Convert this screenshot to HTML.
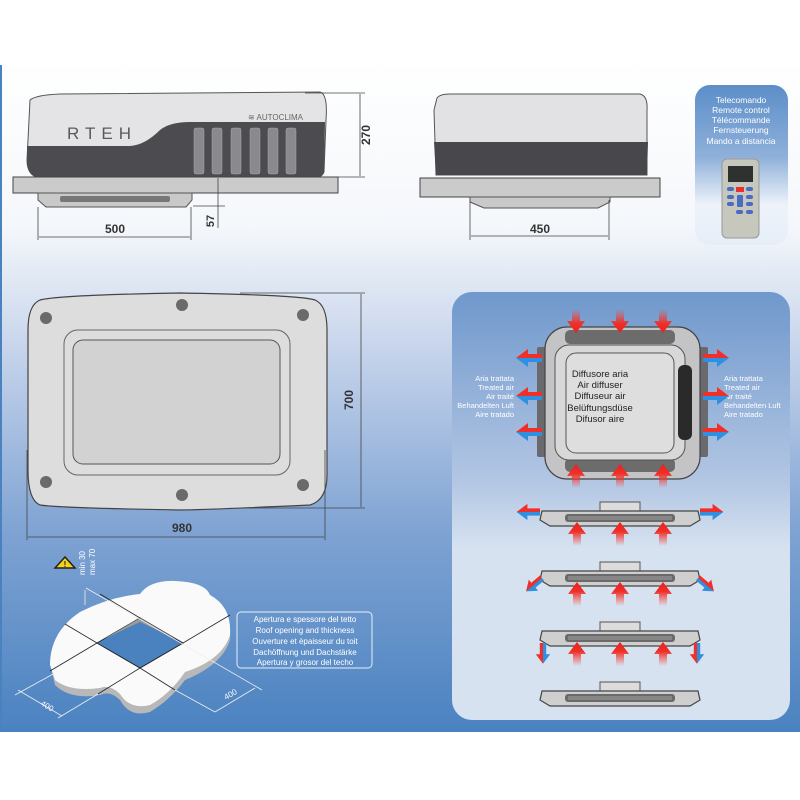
<!DOCTYPE html>
<html><head><meta charset="utf-8"><style>
html,body{margin:0;padding:0;background:#fff}
svg{display:block}
text{font-family:"Liberation Sans",sans-serif}
</style></head><body>
<svg width="800" height="800" viewBox="0 0 800 800" xmlns="http://www.w3.org/2000/svg">
<defs>
<linearGradient id="bg" x1="0" y1="0" x2="0" y2="1">
<stop offset="0" stop-color="#ffffff"/><stop offset="0.25" stop-color="#f4f7fb"/><stop offset="0.42" stop-color="#c9d6ec"/><stop offset="0.7" stop-color="#7fa3d3"/><stop offset="1" stop-color="#4a82c0"/></linearGradient>
<linearGradient id="pnl" x1="0" y1="0" x2="0" y2="1">
<stop offset="0" stop-color="#6f98cc"/><stop offset="0.45" stop-color="#b4c7e4"/><stop offset="0.6" stop-color="#d6e2f0"/><stop offset="1" stop-color="#d6e2f0"/></linearGradient>
<linearGradient id="rem" x1="0" y1="0" x2="0" y2="1">
<stop offset="0" stop-color="#5b8ec8"/><stop offset="0.45" stop-color="#8fb0da"/><stop offset="0.75" stop-color="#eef3fa"/><stop offset="1" stop-color="#e6eef8"/></linearGradient>
<linearGradient id="up" x1="0" y1="1" x2="0" y2="0"><stop offset="0" stop-color="#ff3b30" stop-opacity="0"/><stop offset="0.6" stop-color="#f03028"/><stop offset="1" stop-color="#e82020"/></linearGradient>
<linearGradient id="dn" x1="0" y1="0" x2="0" y2="1"><stop offset="0" stop-color="#ff3b30" stop-opacity="0"/><stop offset="0.6" stop-color="#f03028"/><stop offset="1" stop-color="#e82020"/></linearGradient>
<linearGradient id="rb" x1="0" y1="0" x2="0" y2="1"><stop offset="0" stop-color="#f03028"/><stop offset="0.5" stop-color="#f03028"/><stop offset="0.5" stop-color="#2f8fe0"/><stop offset="1" stop-color="#2f8fe0"/></linearGradient>
<g id="uparr"><path d="M-4,18 L-4,6 L-9,6 L0,-6 L9,6 L4,6 L4,18Z" fill="url(#up)"/></g>
<g id="dnarr"><path d="M-4,-18 L-4,-6 L-9,-6 L0,6 L9,-6 L4,-6 L4,-18Z" fill="url(#dn)"/></g>
<g id="sarr"><path d="M0,-4 L-14,-4 L-14,-9 L-26,0 L-14,9 L-14,4 L0,4Z" fill="url(#rb)"/></g>
<g id="prof">
<rect x="-20" y="-12" width="40" height="10" fill="#dcdcdc" stroke="#555" stroke-width="1"/>
<path d="M-78,-3 L78,-3 L80,6 L70,12 L-70,12 L-80,6Z" fill="#cfcfcf" stroke="#444" stroke-width="1.2"/>
<rect x="-55" y="0" width="110" height="8" rx="3" fill="#6a6a6a"/>
<rect x="-52" y="2" width="104" height="4" fill="#9a9a9a" opacity=".6"/>
</g>
</defs>
<rect x="0" y="60" width="800" height="672" fill="url(#bg)"/>
<rect x="0" y="65" width="2" height="667" fill="#4a82c0"/>

<!-- side view -->
<path d="M30,100 Q36,95 60,94 L320,92 Q328,94 326,120 L324,172 Q322,178 312,178 L40,178 Q27,176 27,160 Z" fill="#e4e4e6" stroke="#555" stroke-width="1"/>
<path d="M27,146 L130,146 Q145,145 160,130 Q170,122 190,122 L325,122 L324,172 Q322,178 312,178 L40,178 Q27,176 27,160Z" fill="#4b4b50"/>
<text x="67" y="139" font-size="17" fill="#5a5a5e" letter-spacing="6">RTEH</text>
<text x="248" y="120" font-size="8" fill="#666">≋ AUTOCLIMA</text>
<g fill="#8a8a8e" stroke="#aaa" stroke-width=".5">
<rect x="194" y="128" width="10" height="46" rx="2"/><rect x="212" y="128" width="10" height="46" rx="2"/><rect x="231" y="128" width="10" height="46" rx="2"/><rect x="250" y="128" width="10" height="46" rx="2"/><rect x="268" y="128" width="10" height="46" rx="2"/><rect x="286" y="128" width="10" height="46" rx="2"/></g>
<rect x="13" y="177" width="325" height="16" fill="#cbcbcb" stroke="#444" stroke-width="1"/>
<path d="M38,193 L192,193 L192,200 L186,207 L46,207 L38,200Z" fill="#c9c9c9" stroke="#555"/>
<rect x="60" y="196" width="110" height="6" rx="2" fill="#777"/>
<g stroke="#444" stroke-width=".8" fill="none">
<line x1="305" y1="93" x2="365" y2="93"/><line x1="325" y1="177" x2="365" y2="177"/><line x1="360" y1="94" x2="360" y2="176"/>
<line x1="38" y1="207" x2="38" y2="240"/><line x1="191" y1="207" x2="191" y2="240"/><line x1="39" y1="237" x2="190" y2="237"/>
<line x1="193" y1="206" x2="225" y2="206"/><line x1="218" y1="178" x2="218" y2="228"/></g>
<text x="370" y="135" font-size="12" font-weight="bold" fill="#333" transform="rotate(-90 370 135)" text-anchor="middle">270</text>
<text x="115" y="233" font-size="12" font-weight="bold" fill="#333" text-anchor="middle">500</text>
<text x="214" y="221" font-size="11" font-weight="bold" fill="#333" transform="rotate(-90 214 221)" text-anchor="middle">57</text>

<!-- front view -->
<path d="M437,98 Q440,94 450,94 L640,94 Q648,96 647,110 L647,175 L436,175 L434,110Z" fill="#e2e2e4" stroke="#555"/>
<path d="M434,142 L648,142 L647,175 L436,175Z" fill="#48484c"/>
<rect x="420" y="178" width="240" height="19" fill="#cbcbcb" stroke="#444"/>
<path d="M470,197 L610,197 L610,202 L598,208 L484,208 L470,202Z" fill="#c9c9c9" stroke="#555"/>
<g stroke="#444" stroke-width=".8"><line x1="470" y1="200" x2="470" y2="240"/><line x1="609" y1="200" x2="609" y2="240"/><line x1="471" y1="236" x2="608" y2="236"/></g>
<text x="540" y="233" font-size="12" font-weight="bold" fill="#333" text-anchor="middle">450</text>

<!-- remote -->
<rect x="695" y="85" width="93" height="160" rx="15" fill="url(#rem)"/>
<g font-size="8.5" fill="#fff" text-anchor="middle"><text x="741" y="103">Telecomando</text><text x="741" y="113">Remote control</text><text x="741" y="123">Télécommande</text><text x="741" y="133">Fernsteuerung</text><text x="741" y="144">Mando a distancia</text></g>
<rect x="722" y="159" width="37" height="79" rx="5" fill="#c6c7bd" stroke="#999"/>
<rect x="728" y="166" width="25" height="16" fill="#2f3130"/>
<rect x="736" y="187" width="8" height="5" fill="#e83030"/>
<g fill="#4a6bc4"><rect x="727" y="187" width="7" height="4" rx="2"/><rect x="746" y="187" width="7" height="4" rx="2"/><rect x="727" y="195" width="7" height="4" rx="2"/><rect x="746" y="195" width="7" height="4" rx="2"/><rect x="727" y="202" width="7" height="4" rx="2"/><rect x="746" y="202" width="7" height="4" rx="2"/><rect x="737" y="195" width="6" height="12" rx="1"/><rect x="736" y="210" width="7" height="4" rx="2"/><rect x="746" y="210" width="7" height="4" rx="2"/></g>

<!-- top view -->
<path d="M40,300 Q60,295 180,293 Q300,295 315,300 Q327,305 327,330 L327,475 Q327,500 310,505 Q200,510 180,510 Q60,508 40,505 Q28,500 28,470 L28,330 Q28,305 40,300Z" fill="#dddddd" stroke="#444" stroke-width="1.2"/>
<rect x="64" y="330" width="226" height="145" rx="14" fill="none" stroke="#666"/>
<rect x="73" y="340" width="207" height="124" rx="10" fill="#d2d2d2" stroke="#555"/>
<g fill="#6a6a6a"><circle cx="46" cy="318" r="6"/><circle cx="182" cy="305" r="6"/><circle cx="303" cy="315" r="6"/><circle cx="46" cy="482" r="6"/><circle cx="182" cy="495" r="6"/><circle cx="303" cy="485" r="6"/></g>
<g stroke="#444" stroke-width=".8"><line x1="240" y1="293" x2="365" y2="293"/><line x1="240" y1="508" x2="365" y2="508"/><line x1="361" y1="294" x2="361" y2="507"/>
<line x1="27" y1="450" x2="27" y2="540"/><line x1="325" y1="450" x2="325" y2="540"/><line x1="28" y1="537" x2="324" y2="537"/></g>
<text x="353" y="400" font-size="12" font-weight="bold" fill="#333" transform="rotate(-90 353 400)" text-anchor="middle">700</text>
<text x="182" y="532" font-size="12" font-weight="bold" fill="#333" text-anchor="middle">980</text>

<!-- roof -->
<path d="M55,568 L65,557 L75,568Z" fill="#f2d21a" stroke="#222" stroke-width="1.5"/>
<text x="65" y="567" font-size="8" font-weight="bold" text-anchor="middle" fill="#222">!</text>
<text x="85" y="575" font-size="8" fill="#fff" transform="rotate(-90 85 575)">min 30</text>
<text x="95" y="575" font-size="8" fill="#fff" transform="rotate(-90 95 575)">max 70</text>
<path d="M52,672 Q50,640 80,618 Q110,603 140,600 Q150,585 175,585 Q205,585 210,600 Q232,612 230,640 Q222,665 185,680 Q170,700 150,712 Q130,718 120,700 Q110,690 100,695 Q70,700 55,685 Z" fill="#b8b8b8"/>
<path d="M50,665 Q50,632 80,612 Q110,597 140,594 Q150,580 175,581 Q205,582 210,595 Q232,607 230,635 Q222,660 185,672 Q170,694 150,705 Q130,710 120,694 Q110,684 100,688 Q70,692 55,680 Z" fill="#fafafa"/>
<path d="M97,643 L140,618 L183,643 L140,668Z" fill="#4a82c0" stroke="#222"/>
<path d="M97,643 L140,618 L183,643 L178,640 L140,622 L102,640Z" fill="#9a9a9a"/>
<g stroke="#222" stroke-width=".8"><line x1="97" y1="643" x2="50" y2="671"/><line x1="183" y1="643" x2="230" y2="615"/><line x1="140" y1="668" x2="98" y2="694"/><line x1="140" y1="668" x2="175" y2="690"/><line x1="140" y1="618" x2="100" y2="594"/><line x1="97" y1="643" x2="65" y2="624"/></g>
<g stroke="#eee" stroke-width=".8"><line x1="86" y1="588" x2="262" y2="690"/><line x1="55" y1="673" x2="15" y2="695"/><line x1="98" y1="694" x2="58" y2="718"/><line x1="18" y1="690" x2="62" y2="716"/><line x1="175" y1="690" x2="215" y2="712"/><line x1="215" y1="712" x2="255" y2="688"/><line x1="85" y1="590" x2="85" y2="605"/></g>
<text x="40" y="705" font-size="8" fill="#fff" transform="rotate(30 40 705)">400</text>
<text x="226" y="700" font-size="8" fill="#fff" transform="rotate(-30 226 700)">400</text>
<rect x="237" y="612" width="135" height="56" rx="4" fill="none" stroke="#e8eef8" stroke-width="1"/>
<g font-size="8" fill="#fff" text-anchor="middle"><text x="305" y="622">Apertura e spessore del tetto</text><text x="305" y="633">Roof opening and thickness</text><text x="305" y="644">Ouverture et èpaisseur du toit</text><text x="305" y="655">Dachöffnung und Dachstärke</text><text x="305" y="665">Apertura y grosor del techo</text></g>

<!-- right panel -->
<rect x="452" y="292" width="338" height="428" rx="20" fill="url(#pnl)"/>
<rect x="537" y="347" width="12" height="110" rx="2" fill="#6a6a6e"/>
<rect x="696" y="347" width="12" height="110" rx="2" fill="#6a6a6e"/>
<rect x="545" y="327" width="155" height="152" rx="22" fill="#c4c4c6" stroke="#444" stroke-width="1.2"/>
<rect x="565" y="330" width="110" height="14" rx="5" fill="#6c6c6c"/>
<rect x="565" y="458" width="110" height="14" rx="5" fill="#6c6c6c"/>
<rect x="555" y="345" width="130" height="115" rx="14" fill="#d8d8d8" stroke="#555"/>
<rect x="566" y="353" width="108" height="100" rx="10" fill="#dedede" stroke="#555"/>
<rect x="678" y="365" width="14" height="75" rx="6" fill="#2a2a2a"/>
<g font-size="9.5" fill="#222" text-anchor="middle"><text x="600" y="377">Diffusore aria</text><text x="600" y="388">Air diffuser</text><text x="600" y="399">Diffuseur air</text><text x="600" y="411">Belüftungsdüse</text><text x="600" y="422">Difusor aire</text></g>
<g font-size="7.5" fill="#fff"><g text-anchor="end"><text x="514" y="381">Aria trattata</text><text x="514" y="390">Treated air</text><text x="514" y="399">Air traité</text><text x="514" y="408">Behandelten Luft</text><text x="514" y="417">Aire tratado</text></g>
<text x="724" y="381">Aria trattata</text><text x="724" y="390">Treated air</text><text x="724" y="399">Air traité</text><text x="724" y="408">Behandelten Luft</text><text x="724" y="417">Aire tratado</text></g>
<use href="#dnarr" x="576" y="327"/><use href="#dnarr" x="620" y="327"/><use href="#dnarr" x="663" y="327"/>
<use href="#uparr" x="576" y="470"/><use href="#uparr" x="620" y="470"/><use href="#uparr" x="663" y="470"/>
<use href="#sarr" x="542" y="358"/><use href="#sarr" x="542" y="396"/><use href="#sarr" x="542" y="432"/>
<use href="#sarr" transform="translate(703 358) scale(-1 1)"/><use href="#sarr" transform="translate(703 396) scale(-1 1)"/><use href="#sarr" transform="translate(703 432) scale(-1 1)"/>

<use href="#prof" x="620" y="514"/>
<use href="#uparr" x="577" y="528"/><use href="#uparr" x="620" y="528"/><use href="#uparr" x="663" y="528"/>
<use href="#sarr" transform="translate(540 512) scale(.9)"/><use href="#sarr" transform="translate(700 512) scale(-.9 .9)"/>

<use href="#prof" x="620" y="574"/>
<use href="#uparr" x="577" y="588"/><use href="#uparr" x="620" y="588"/><use href="#uparr" x="663" y="588"/>
<use href="#sarr" transform="translate(542 578) rotate(-40) scale(.8)"/><use href="#sarr" transform="translate(698 578) rotate(40) scale(-.8 .8)"/>

<use href="#prof" x="620" y="634"/>
<use href="#uparr" x="577" y="648"/><use href="#uparr" x="620" y="648"/><use href="#uparr" x="663" y="648"/>
<use href="#sarr" transform="translate(543 643) rotate(-90) scale(.8)"/><use href="#sarr" transform="translate(697 643) rotate(-90) scale(.8)"/>

<use href="#prof" x="620" y="694"/>
</svg>
</body></html>
